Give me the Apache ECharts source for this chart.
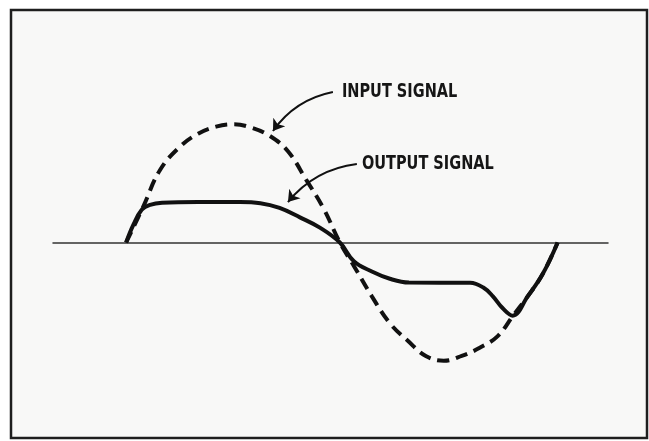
<!DOCTYPE html>
<html>
<head>
<meta charset="utf-8">
<script src="https://cdn.jsdelivr.net/npm/echarts@6/dist/echarts.min.js"></script>
<style>
html,body{margin:0;padding:0;background:#ffffff;}
#chart{width:649px;height:441px;}
</style>
</head>
<body>
<div id="chart"></div>
<script>
// Phase in degrees (x) and relative amplitude (y)
var inputSignal = [
  [0,0],[14.4,0.31],[28.3,0.62],[45,0.82],[60,0.93],[75,0.99],[90,1.01],[105,0.98],
  [120,0.91],[135,0.78],[150,0.54],[165,0.285],[178.3,0],
  [190,-0.2],[205,-0.46],[220,-0.69],[235,-0.84],[250,-0.97],[265,-1.01],[280,-0.97],
  [295,-0.9],[310,-0.8],[322.5,-0.63],[335,-0.46],[347.5,-0.27],[360,0]
];
var outputSignal = [
  [0,0],[6,0.15],[13,0.28],[20,0.322],[30,0.34],[60,0.346],[95,0.346],[112,0.336],
  [128,0.295],[145,0.215],[162,0.125],[178.3,0],
  [190,-0.16],[205,-0.248],[220,-0.31],[236,-0.342],[287,-0.344],[298,-0.385],
  [306,-0.46],[314,-0.56],[322.5,-0.625],[335,-0.46],[347.5,-0.27],[360,0]
];
var labelTexts = ['INPUT SIGNAL','OUTPUT SIGNAL'];
var labelAnchors = [[180,1.282],[196.7,0.671]];
var arrowPaths = [
  [[172.5,1.286],[122.5,0.953]],
  [[192.5,0.671],[135,0.346]]
];

var chart = echarts.init(document.getElementById('chart'), null, {renderer:'canvas'});
var font = "'Liberation Sans Narrow','DejaVu Sans Condensed',sans-serif";
chart.setOption({
  animation:false,
  backgroundColor:'#ffffff',
  grid:{left:53,right:41,top:8.5,bottom:11.3,containLabel:false},
  xAxis:{type:'value',min:-61,max:402,
    axisLine:{show:true,onZero:true,lineStyle:{color:'#333',width:1.5}},
    axisTick:{show:false},axisLabel:{show:false},splitLine:{show:false}},
  yAxis:{type:'value',min:-1.6,max:2.0,
    axisLine:{show:false},axisTick:{show:false},axisLabel:{show:false},splitLine:{show:false}},
  series:[
    {type:'line',name:'Input',data:inputSignal,smooth:0.4,symbol:'none',clip:false,z:2,
     lineStyle:{color:'#111',width:4,type:[12,7]}},
    {type:'line',name:'Output',data:outputSignal,smooth:0.4,symbol:'none',clip:false,z:3,
     lineStyle:{color:'#111',width:4}},
    {type:'lines',coordinateSystem:'cartesian2d',z:4,
     symbol:['none','arrow'],symbolSize:[9,11],
     lineStyle:{color:'#111',width:2,curveness:-0.2,opacity:1},
     data:arrowPaths.map(function(p){return {coords:p};})}
  ]
});
// Frame and text annotations, placed through the chart's own coordinate conversion
var texts = labelAnchors.map(function(a,i){
  var p = chart.convertToPixel({gridIndex:0}, a);
  return {type:'text', x:p[0], y:p[1], scaleX:0.85, z:10, silent:true,
    style:{text:labelTexts[i], fill:'#161616', font:'bold 19px ' + font,
      textAlign:'left', textVerticalAlign:'middle'}};
});
chart.setOption({graphic:[{
  type:'rect', z:-10, silent:true,
  shape:{x:11,y:10,width:636,height:428},
  style:{fill:'#f8f8f7',stroke:'#1e1e1e',lineWidth:2.5}
}].concat(texts)});
</script>
</body>
</html>
